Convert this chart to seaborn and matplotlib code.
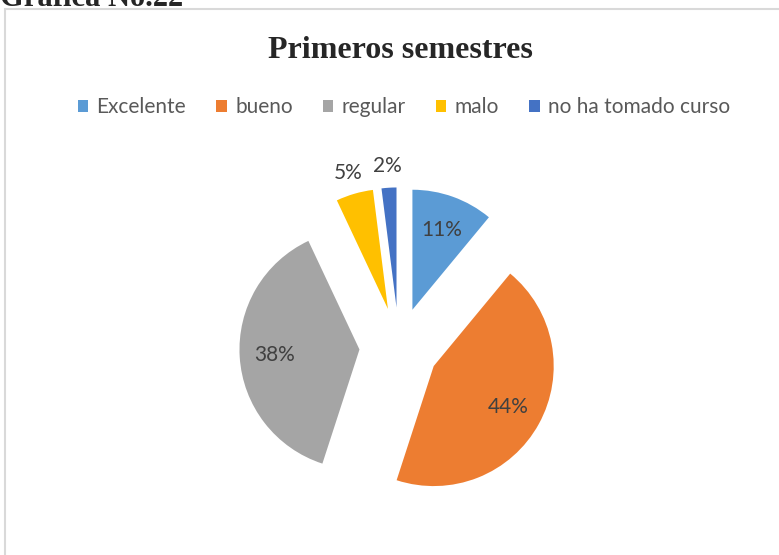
import matplotlib
matplotlib.use("Agg")
import matplotlib.pyplot as plt
import seaborn as sns
import numpy as np

categories = ["Excelente", "bueno", "regular", "malo", "no ha tomado curso"]
values = [11, 44, 38, 5, 2]
colors = ["#5B9BD5", "#ED7D31", "#A5A5A5", "#FFC000", "#4472C4"]
title = "Primeros semestres"
caption = "Gráfica No.22"

sns.set_theme(style="white")
plt.rcParams["font.family"] = ["Lato", "DejaVu Sans"]

W, H = 779, 555
fig = plt.figure(figsize=(W / 100, H / 100), dpi=100)

# frame
frame = plt.Rectangle((5 / W, -0.05), 1.0, (H - 9) / H + 0.05, transform=fig.transFigure,
                      fill=False, edgecolor="#D9D9D9", linewidth=1.5)
fig.patches.append(frame)

fig.text(0, (H - 6) / H, caption, fontsize=22, fontweight="bold",
         family="Liberation Serif", ha="left", va="baseline")
fig.text(400 / W, (H - 58) / H, title, fontsize=23, fontweight="bold",
         family="Liberation Serif", ha="center", va="baseline")

R = 120.0
cx, cy = 399.0, H - 347.0
aw, ah = 400.0, 380.0
ax = fig.add_axes([(cx - aw / 2) / W, (cy - ah / 2) / H, aw / W, ah / H])

explode = [0.33] * len(values)
wedges, _ = ax.pie(values, colors=colors, startangle=90, counterclock=False,
                   explode=explode, radius=1.0, wedgeprops=dict(linewidth=0))
ax.set_xlim(-aw / 2 / R, aw / 2 / R)
ax.set_ylim(-ah / 2 / R, ah / 2 / R)
ax.set_aspect("equal", adjustable="datalim")
ax.axis("off")

total = sum(values)
for w, v in zip(wedges, values):
    mid = np.deg2rad((w.theta1 + w.theta2) / 2)
    if v / total >= 0.08:
        d = 0.33 + 0.71
    else:
        d = 1.51
    ax.text(d * np.cos(mid), d * np.sin(mid), f"{round(100 * v / total)}%",
            ha="center", va="center", fontsize=15, color="#404040")

handles = [plt.Rectangle((0, 0), 1, 1, facecolor=c, edgecolor="none") for c in colors]
fig.legend(handles, categories, loc="center", bbox_to_anchor=(404 / W, (H - 107) / H),
           ncol=5, frameon=False, fontsize=15, handlelength=0.5, handleheight=0.5,
           handletextpad=0.4, columnspacing=1.45, labelcolor="#595959")

fig.savefig("out.png", dpi=100)
